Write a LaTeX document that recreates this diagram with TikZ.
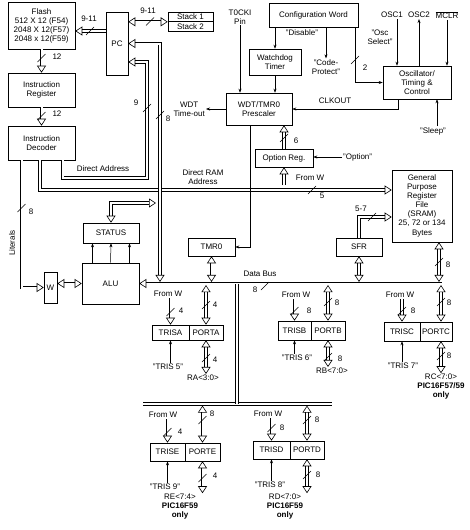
\documentclass[tikz,border=0pt]{standalone}
\usepackage{fontspec}
\setmainfont{Liberation Sans}
\usepackage{tikz}
\usetikzlibrary{arrows.meta, calc}
\tikzset{
  bt/.tip={Triangle[open, length=7pt, width=9pt]},
  bw/.pic={\draw[line width=0.5pt] (-4,4) -- (4,-4);}
}
\begin{document}
\begin{tikzpicture}[x=1pt, y=-1pt,
  blk/.style={draw, line width=0.6pt, inner sep=0pt, align=center, font=\fontsize{8}{9}\selectfont},
  lbl/.style={inner sep=1pt, align=center, font=\fontsize{8}{9}\selectfont},
  bus/.style={double, double distance=2pt, line width=0.6pt},
  sa/.style={line width=0.5pt, -{Stealth[length=4pt, width=3pt]}}
]
\useasboundingbox (0,0) rectangle (469,530);

\node[blk, minimum width=67pt, minimum height=47pt] (flash) at (41.5,25.5) {Flash\\512 X 12 (F54)\\2048 X 12(F57)\\2048 x 12(F59)};
\node[blk, minimum width=22pt, minimum height=63pt] (pc) at (117,43.5) {PC};
\node[blk, minimum width=45pt, minimum height=9.5pt] (st1) at (190.5,16.75) {Stack 1};
\node[blk, minimum width=45pt, minimum height=9.5pt] (st2) at (190.5,26.25) {Stack 2};
\node[blk, minimum width=67pt, minimum height=34pt] (ir) at (41.5,90) {Instruction\\Register};
\node[blk, minimum width=67pt, minimum height=34pt] (id) at (41.5,143) {Instruction\\Decoder};
\node[blk, minimum width=89pt, minimum height=24pt] (conf) at (313.5,15) {Configuration Word};
\node[blk, minimum width=52pt, minimum height=26pt] (wdt) at (275,62) {Watchdog\\Timer};
\node[blk, minimum width=66pt, minimum height=32pt] (presc) at (259,109) {WDT/TMR0\\Prescaler};
\node[blk, minimum width=68pt, minimum height=33pt] (osc) at (417,82.5) {Oscillator/\\Timing \&\\Control};
\node[blk, minimum width=58pt, minimum height=18pt] (optreg) at (284,158) {Option Reg.};
\node[blk, minimum width=60pt, minimum height=72pt] (gpr) at (422,206) {General\\Purpose\\Register\\File\\(SRAM)\\25, 72 or 134\\[1pt]Bytes};
\node[blk, minimum width=46pt, minimum height=18pt] (sfr) at (359,247) {SFR};
\node[blk, minimum width=47pt, minimum height=18pt] (tmr0) at (211.5,247) {TMR0};
\node[blk, minimum width=56pt, minimum height=20pt] (status) at (111,233) {STATUS};
\node[blk, minimum width=57pt, minimum height=41pt] (alu) at (110.5,283.5) {ALU};
\node[blk, minimum width=13pt, minimum height=31pt] (w) at (50.5,287.5) {W};

\node[blk, minimum width=37pt, minimum height=15pt] (trisa) at (170.5,332.5) {TRISA};
\node[blk, minimum width=34pt, minimum height=15pt] (porta) at (206,332.5) {PORTA};
\node[blk, minimum width=33pt, minimum height=19pt] (trisb) at (294.5,330.5) {TRISB};
\node[blk, minimum width=34pt, minimum height=19pt] (portb) at (328,330.5) {PORTB};
\node[blk, minimum width=36pt, minimum height=19pt] (trisc) at (402,331.5) {TRISC};
\node[blk, minimum width=32pt, minimum height=19pt] (portc) at (436,331.5) {PORTC};
\node[blk, minimum width=35pt, minimum height=18pt] (trise) at (167.5,452) {TRISE};
\node[blk, minimum width=35pt, minimum height=18pt] (porte) at (202.5,452) {PORTE};
\node[blk, minimum width=37pt, minimum height=18pt] (trisd) at (271.5,450) {TRISD};
\node[blk, minimum width=34pt, minimum height=18pt] (portd) at (307,450) {PORTD};

\node[lbl] (l911a) at (89,19) {9-11};
\node[lbl] (l911b) at (148,11) {9-11};
\node[lbl] (l12a) at (57,57) {12};
\node[lbl] (l12b) at (57,114) {12};
\node[lbl] (l9) at (136,103) {9};
\node[lbl] (l8pc) at (168,119) {8};
\node[lbl] (l8lit) at (31,212) {8};
\node[lbl, rotate=90] (lit) at (12,243) {Literals};
\node[lbl, anchor=east] (wdtout) at (206,109) {WDT\\Time-out};
\node[lbl] (daddr) at (103,169) {Direct Address};
\node[lbl] (draddr) at (203,177) {Direct RAM\\Address};
\node[lbl] (t0cki) at (240,17) {T0CKI\\Pin};
\node[lbl] (dis) at (302,33) {"Disable"};
\node[lbl] (codep) at (326,67) {"Code-\\Protect"};
\node[lbl] (oscsel) at (380,37) {"Osc\\Select"};
\node[lbl] (l2) at (365,68) {2};
\node[lbl] (osc1) at (392,15) {OSC1};
\node[lbl] (osc2) at (419,15) {OSC2};
\node[lbl] (mclr) at (447,15) {$\overline{\mbox{MCLR}}$};
\node[lbl] (clkout) at (335,101) {CLKOUT};
\node[lbl] (sleep) at (433,131) {"Sleep"};
\node[lbl, anchor=west] (optlbl) at (342,157) {"Option"};
\node[lbl] (l6) at (296,141) {6};
\node[lbl] (fwol) at (310,178) {From W};
\node[lbl] (l5) at (322,196) {5};
\node[lbl] (l57) at (361,209) {5-7};
\node[lbl] (l8gpr) at (448,265) {8};
\node[lbl] (dbus) at (260,274) {Data Bus};
\node[lbl] (l8db) at (255,290) {8};

\node[lbl] (fwa) at (168,294) {From W};
\node[lbl] (lta) at (181,311) {4};
\node[lbl] (lpa) at (215,305) {4};
\node[lbl] (tris5) at (168,367) {"TRIS 5"};
\node[lbl] (lra) at (215,360) {4};
\node[lbl] (ra) at (203,378) {RA<3:0>};

\node[lbl] (fwb) at (296,295) {From W};
\node[lbl] (ltb) at (309,311) {8};
\node[lbl] (lpb) at (337,303) {8};
\node[lbl] (tris6) at (297,358) {"TRIS 6"};
\node[lbl] (lrb) at (340,359) {8};
\node[lbl] (rb) at (332,371) {RB<7:0>};

\node[lbl] (fwc) at (400,295) {From W};
\node[lbl] (ltc) at (413,311) {8};
\node[lbl] (lpc) at (449,303) {8};
\node[lbl] (tris7) at (403,366) {"TRIS 7"};
\node[lbl] (lrc) at (449,356) {8};
\node[lbl] (rc) at (441,387) {RC<7:0>\\\textbf{PIC16F57/59}\\\textbf{only}};

\node[lbl] (fwe) at (163,415) {From W};
\node[lbl] (lte) at (180,432) {4};
\node[lbl] (lpe) at (212,414) {8};
\node[lbl] (tris9) at (165,487) {"TRIS 9"};
\node[lbl] (lre) at (215,476) {4};
\node[lbl] (re) at (180,507) {RE<7:4>\\\textbf{PIC16F59}\\\textbf{only}};

\node[lbl] (fwd) at (268,414) {From W};
\node[lbl] (ltd) at (282,428) {8};
\node[lbl] (lpd) at (317,420) {8};
\node[lbl] (tris8) at (270,485) {"TRIS 8"};
\node[lbl] (lrd) at (318,475) {8};
\node[lbl] (rd) at (285,507) {RD<7:0>\\\textbf{PIC16F59}\\\textbf{only}};

\coordinate (buse) at (442,283.5);
\coordinate (lbw) at (143,404);
\coordinate (lbe) at (332,404);
\coordinate (lbm) at (237,404);
\coordinate (pcbus) at (160,283.5);
\coordinate (fwo) at (284,185);
\coordinate (fpc) at ([yshift=-5.5pt]flash.east);
\coordinate (gprb) at ([xshift=17pt]gpr.south);
\coordinate (pcn) at ([xshift=5pt]portc.north);
\coordinate (pcs) at ([xshift=5pt]portc.south);
\coordinate (o1) at ([xshift=5pt]osc1.south);
\coordinate (sl) at ([xshift=4pt]sleep.north);

\draw[bus, -bt] (fpc -| pc.west) -- (fpc);
\draw[bus, bt-bt] (pc.east |- st1.south west) -- (st1.south west);
\draw[bus, -bt] (flash.south) -- (ir.north);
\draw[bus, -bt] (ir.south) -- (id.north);
\draw[bus, -bt] ([xshift=-20pt]id.south) |- (w.west);
\draw[bus, -bt] ([xshift=-1.5pt]id.south) |- ([yshift=16pt]gpr.west);
\draw[bus, -bt] ([xshift=21pt]id.south) |- (147,178) |- ([yshift=-18.5pt]pc.east);
\draw[bus, bt-bt, shorten >=1.6pt] (pc.east) -| (pcbus);
\draw[bus, bt-bt] (status.north) |- (156,203);
\draw[bus, bt-bt] (alu.west -| w.east) -- (alu.west);
\draw[bus, bt-] (alu.east) -- (buse);
\draw[bus] (lbw) -- (lbe);
\draw[bus] (lbm |- buse) -- (lbm);
\draw[bus, bt-bt, shorten >=1.6pt] (tmr0.south) -- (tmr0.south |- buse);
\draw[bus, bt-bt, shorten >=1.6pt] (sfr.south) -- (sfr.south |- buse);
\draw[bus, bt-bt, shorten >=1.6pt] (gprb) -- (gprb |- buse);
\draw[bus, -bt] (sfr.north) |- ([yshift=-11pt]gpr.west);
\draw[bus, -bt] (optreg.north) -- (optreg.north |- presc.south);
\draw[bus, -bt] (fwo) -- (optreg.south);

\draw[sa] ([xshift=-18pt]alu.north) -- ([xshift=-18pt]alu.north |- status.south);
\draw[sa] (alu.north) -- (status.south);
\draw[sa] ([xshift=19pt]alu.north) -- ([xshift=19pt]alu.north |- status.south);
\draw[sa] (wdt.north |- conf.south) -- (wdt.north);
\draw[sa] (codep.north |- conf.south) -- (codep.north);
\draw[sa] ([xshift=-3pt]conf.south east) |- (osc.west);
\draw[sa] (o1) -- (o1 |- osc.north);
\draw[sa] (osc2.south |- osc.north) -- (osc2.south);
\draw[sa] (mclr.south) -- (mclr.south |- osc.north);
\draw[sa] ([xshift=-19pt]osc.south) |- (presc.east);
\draw[sa] (sl) -- (sl |- osc.south);
\draw[sa] (t0cki.south) -- (t0cki.south |- presc.north);
\draw[sa] (wdt.south) -- (wdt.south |- presc.north);
\draw[sa] (presc.west) -- (wdtout.east);
\draw[sa] ([xshift=-9pt]presc.south) |- (tmr0.east);
\draw[sa] (optlbl.west) -- (optlbl.west -| optreg.east);

\draw[bus, -bt] (trisa.north |- fwa.south) -- (trisa.north);
\draw[bus, bt-bt, shorten <=1.6pt] (porta.north |- buse) -- (porta.north);
\draw[sa] (trisa.south |- tris5.north) -- (trisa.south);
\draw[bus, bt-bt] (porta.south) -- (porta.south |- ra.north);

\draw[bus, -bt] (trisb.north |- fwb.south) -- (trisb.north);
\draw[bus, bt-bt, shorten <=1.6pt] (portb.north |- buse) -- (portb.north);
\draw[sa] (trisb.south |- tris6.north) -- (trisb.south);
\draw[bus, bt-bt] (portb.south) -- (portb.south |- rb.north);

\draw[bus, -bt] (trisc.north |- fwc.south) -- (trisc.north);
\draw[bus, bt-bt, shorten <=1.6pt] (pcn |- buse) -- (pcn);
\draw[sa] (trisc.south |- tris7.north) -- (trisc.south);
\draw[bus, bt-bt] (pcs) -- (pcs |- rc.north);

\draw[bus, -bt] (trise.north |- fwe.south) -- (trise.north);
\draw[bus, bt-bt, shorten <=1.6pt] (porte.north |- lbw) -- (porte.north);
\draw[sa] (trise.south |- tris9.north) -- (trise.south);
\draw[bus, bt-bt] (porte.south) -- (porte.south |- re.north);

\draw[bus, -bt] (trisd.north |- fwd.south) -- (trisd.north);
\draw[bus, bt-bt, shorten <=1.6pt] (portd.north |- lbw) -- (portd.north);
\draw[sa] (trisd.south |- tris8.north) -- (trisd.south);
\draw[bus, bt-bt] (portd.south) -- (portd.south |- rd.north);

\pic at (90,31) {bw};
\pic at (150,21.5) {bw};
\pic at (41.5,58) {bw};
\pic at (41.5,116) {bw};
\pic at (147,108) {bw};
\pic at (160,115) {bw};
\pic at (21.5,208) {bw};
\pic at (284,138) {bw};
\pic at (312,190) {bw};
\pic at (355,60) {bw};
\pic at (372,217) {bw};
\pic at (439,262) {bw};
\pic at (265,286) {bw};
\pic at (170.5,312) {bw};
\pic at (206,305) {bw};
\pic at (206,358) {bw};
\pic at (294.5,311) {bw};
\pic at (328,302) {bw};
\pic at (328,357) {bw};
\pic at (402,311) {bw};
\pic at (441,302) {bw};
\pic at (441,356) {bw};
\pic at (167.5,432) {bw};
\pic at (202.5,420) {bw};
\pic at (202.5,478) {bw};
\pic at (271.5,428) {bw};
\pic at (307,420) {bw};
\pic at (307,475) {bw};
\end{tikzpicture}
\end{document}
